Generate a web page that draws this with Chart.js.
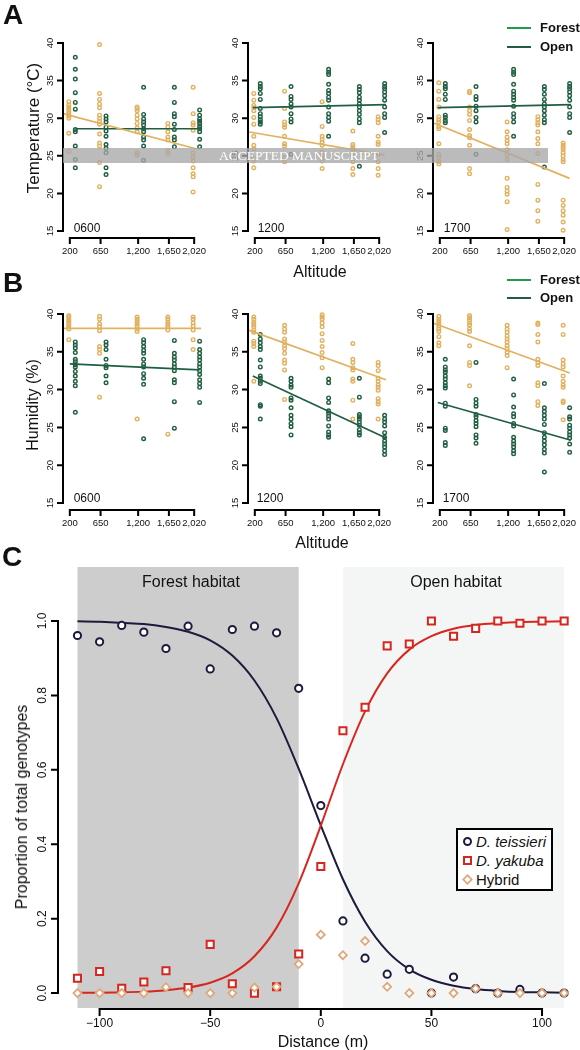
<!DOCTYPE html>
<html>
<head>
<meta charset="utf-8">
<script src="https://cdn.jsdelivr.net/npm/chart.js@4.4.1/dist/chart.umd.min.js"></script>
<style>
  html, body { margin: 0; padding: 0; background: #fff; }
  #page { position: relative; width: 580px; height: 1050px; overflow: hidden; font-family: "Liberation Sans", Arial, sans-serif; color: #111; }
  canvas { position: absolute; left: 0; top: 0; }
  .t { position: absolute; transform: translate(-50%, -50%); white-space: nowrap; line-height: 1; }
  .r { transform: translate(-50%, -50%) rotate(-90deg); }
  .letter { font-size: 28px; font-weight: bold; }
  .hour { font-size: 12px; }
  .ttl { font-size: 16px; }
  .lg { position: absolute; font-size: 13px; font-weight: bold; line-height: 1; }
  .lg span.ln { position: absolute; left: 0; top: -1px; width: 24px; height: 2px; }
  .lg span.tx { position: absolute; left: 33px; top: -7px; white-space: nowrap; }
  #wm { position: absolute; left: 63px; top: 148px; width: 485px; height: 15px; background: rgba(168,168,168,0.78); }
  #wmt { font-family: "Liberation Serif", "DejaVu Serif", serif; font-size: 13.5px; color: #fff; }
  #cleg { position: absolute; left: 456px; top: 828px; width: 93px; height: 59px; border: 2px solid #000; background: #fff; font-size: 15px; }
  #cleg .row { position: absolute; left: 0; height: 18px; line-height: 18px; white-space: nowrap; }
  #cleg .mk { position: absolute; left: 5px; top: 4px; width: 5px; height: 5px; background: #fff; }
  #cleg .lab { position: absolute; left: 18px; top: 0; }
</style>
</head>
<body>
<div id="page">
  <canvas id="a1" width="580" height="1050"></canvas>
  <canvas id="a2" width="580" height="1050"></canvas>
  <canvas id="a3" width="580" height="1050"></canvas>
  <canvas id="b1" width="580" height="1050"></canvas>
  <canvas id="b2" width="580" height="1050"></canvas>
  <canvas id="b3" width="580" height="1050"></canvas>
  <canvas id="c1" width="580" height="1050"></canvas>

  <div id="wm"></div>
  <div class="t" id="wmt" style="left:299px;top:156px;">ACCEPTED MANUSCRIPT</div>

  <div class="t letter" style="left:13px;top:15px;">A</div>
  <div class="t letter" style="left:13px;top:283px;">B</div>
  <div class="t letter" style="left:12px;top:557px;">C</div>

  <div class="t r" style="left:33px;top:128px;font-size:17px;">Temperature (°C)</div>
  <div class="t r ttl" style="left:33px;top:405px;">Humidity (%)</div>
  <div class="t ttl" style="left:320px;top:272px;">Altitude</div>
  <div class="t ttl" style="left:322px;top:543px;">Altitude</div>

  <div class="t hour" style="left:87px;top:228px;">0600</div>
  <div class="t hour" style="left:271px;top:228px;">1200</div>
  <div class="t hour" style="left:457px;top:228px;">1700</div>
  <div class="t hour" style="left:87px;top:498px;">0600</div>
  <div class="t hour" style="left:270px;top:498px;">1200</div>
  <div class="t hour" style="left:456px;top:498px;">1700</div>

  <div class="lg" style="left:507px;top:28px;"><span class="ln" style="background:#229a4b"></span><span class="tx">Forest</span></div>
  <div class="lg" style="left:507px;top:47px;"><span class="ln" style="background:#1f5e40"></span><span class="tx">Open</span></div>
  <div class="lg" style="left:507px;top:280px;"><span class="ln" style="background:#229a4b"></span><span class="tx">Forest</span></div>
  <div class="lg" style="left:507px;top:298px;"><span class="ln" style="background:#1f5e40"></span><span class="tx">Open</span></div>

  <div class="t ttl" style="left:191px;top:582px;">Forest habitat</div>
  <div class="t ttl" style="left:456px;top:582px;">Open habitat</div>
  <div class="t r ttl" style="left:22px;top:807px;">Proportion of total genotypes</div>
  <div class="t ttl" style="left:323px;top:1042px;">Distance (m)</div>

  <div id="cleg">
    <div class="row" style="top:3px;"><span class="mk" style="border:2px solid #1c1b3d;border-radius:50%;"></span><span class="lab"><i>D. teissieri</i></span></div>
    <div class="row" style="top:22px;"><span class="mk" style="border:2px solid #d7261e;"></span><span class="lab"><i>D. yakuba</i></span></div>
    <div class="row" style="top:41px;"><span class="mk" style="border:2px solid #dfa77c;transform:rotate(45deg) scale(0.85);"></span><span class="lab">Hybrid</span></div>
  </div>
</div>

<script>
// ---- panels A & B : altitude groups ----
var altitudes = [200, 650, 1200, 1650, 2020];
var altitudeLabels = ['200', '650', '1,200', '1,650', '2,020'];
var climateTicks = [15, 20, 25, 30, 35, 40];
var climateTickLabels = ['15', '20', '25', '30', '35', '40'];

var temp0600Forest = [
    [32.2, 31.8, 31.5, 31.2, 30.9, 30.6, 30.3, 30.0, 28.0, 25.6],
    [39.8, 33.3, 32.5, 31.9, 31.4, 30.4, 30.0, 29.6, 29.2, 27.9, 26.7, 26.3, 24.1, 20.9],
    [31.5, 31.3, 31.0, 30.4, 29.9, 29.3, 28.7, 28.2, 25.4, 25.1],
    [29.3, 28.8, 28.2, 27.5, 27.1, 25.7, 25.3],
    [34.1, 30.6, 29.4, 29.1, 28.4, 25.4, 24.8, 24.3, 23.4, 22.6, 22.2, 20.2]
];
var temp0600Open = [
    [38.1, 36.5, 35.2, 33.4, 32.1, 31.2, 28.5, 28.2, 26.3, 24.5, 23.4],
    [30.3, 29.9, 29.5, 28.8, 28.3, 27.6, 26.5, 26.0, 25.4, 23.4, 22.5],
    [34.1, 30.5, 29.9, 29.5, 29.1, 28.6, 28.2, 27.5, 27.1, 26.3, 24.4],
    [34.1, 32.1, 30.6, 30.2, 29.2, 28.5, 27.5, 27.1, 26.2],
    [31.1, 30.4, 29.9, 29.6, 29.3, 28.9, 28.6, 28.2, 27.2, 26.2]
];
var temp1200Forest = [
    [33.3, 32.4, 31.7, 31.4, 31.0, 30.1, 29.2, 27.6, 26.4, 25.9, 24.6, 24.3, 23.4],
    [33.6, 31.3, 29.5, 29.1, 28.8, 27.6, 26.6, 26.3, 24.8, 24.2],
    [32.2, 28.9, 27.6, 27.2, 26.8, 26.4, 25.5, 25.1, 24.7, 24.3, 23.3],
    [28.3, 26.5, 26.2, 25.9, 25.5, 25.2, 24.2, 23.3, 22.5],
    [30.2, 29.8, 29.4, 27.6, 26.8, 26.5, 25.2, 24.2, 23.3, 22.4]
];
var temp1200Open = [
    [34.6, 34.2, 33.9, 33.3, 32.5, 31.3, 30.6, 30.2, 29.8, 29.5, 29.2],
    [34.2, 32.9, 32.5, 31.9, 31.5, 30.6, 29.9, 29.5, 25.2],
    [36.5, 36.1, 35.8, 34.5, 33.7, 33.3, 32.8, 32.4, 31.5, 30.6, 30.1, 29.6, 27.6],
    [34.2, 33.8, 33.4, 32.8, 32.4, 31.9, 31.5, 31.0, 30.5, 29.9, 29.4, 23.6],
    [34.6, 34.2, 33.9, 33.5, 33.0, 32.4, 31.5, 30.6, 30.1, 28.1]
];
var temp1700Forest = [
    [34.7, 33.6, 32.5, 31.5, 30.2, 29.8, 29.5, 28.9, 28.6, 26.6, 25.2, 24.8, 24.2, 23.9],
    [33.6, 33.4, 31.5, 31.0, 30.5, 29.7, 28.5, 27.7, 27.4, 26.4, 23.3, 22.6],
    [29.5, 28.2, 27.5, 27.0, 26.6, 25.8, 25.1, 24.5, 22.0, 20.8, 20.3, 19.9, 18.9, 15.2],
    [30.2, 29.8, 29.4, 29.1, 28.2, 27.3, 26.6, 25.3, 21.2, 19.1, 17.7, 16.3],
    [26.7, 26.4, 26.1, 25.8, 25.4, 25.0, 24.5, 24.2, 19.1, 18.4, 17.7, 17.1, 16.2, 15.1]
];
var temp1700Open = [
    [34.6, 34.2, 33.9, 33.2, 32.5, 30.4, 30.1, 29.7, 29.4],
    [34.2, 32.9, 32.5, 31.6, 31.0, 30.1, 29.5, 25.2],
    [36.5, 36.1, 35.8, 34.5, 33.6, 33.2, 32.8, 32.4, 31.6, 30.6, 30.1, 29.5, 27.6],
    [34.2, 33.8, 33.2, 32.5, 31.9, 31.5, 31.0, 30.4, 29.8, 29.4, 23.5],
    [34.6, 34.2, 33.9, 33.5, 33.0, 32.4, 31.5, 30.6, 30.1, 28.1]
];

var hum0600Forest = [
    [39.8, 39.6, 39.3, 39.1, 38.9, 38.6, 38.3, 38.0, 36.6],
    [39.7, 39.3, 38.7, 38.3, 37.8, 35.7, 35.3, 34.8, 29.0],
    [39.6, 39.3, 39.0, 38.7, 38.4, 38.0, 37.7, 26.1],
    [39.6, 39.3, 38.9, 38.6, 38.3, 37.9, 24.1],
    [39.6, 39.3, 38.8, 38.4, 37.9, 36.6, 35.3]
];
var hum0600Open = [
    [36.3, 35.9, 35.5, 34.9, 34.0, 33.7, 33.3, 33.0, 32.4, 31.8, 31.1, 30.5, 27.0],
    [36.3, 35.9, 35.3, 34.0, 33.2, 32.9, 31.8, 30.9],
    [36.6, 36.2, 35.7, 35.2, 34.8, 34.0, 33.4, 33.0, 32.1, 31.5, 30.7, 23.5],
    [36.5, 34.8, 34.3, 33.9, 33.4, 33.0, 32.5, 31.3, 30.9, 28.4, 24.9],
    [36.4, 35.3, 34.8, 34.3, 33.9, 33.4, 33.0, 32.5, 32.0, 31.3, 30.8, 30.3, 28.3]
];
var hum1200Forest = [
    [39.6, 39.3, 38.9, 38.6, 38.3, 37.9, 37.6, 36.4, 36.1, 35.7, 31.1],
    [38.5, 38.0, 37.6, 36.7, 36.3, 35.8, 35.4, 34.8, 33.9, 33.5, 32.6, 28.7],
    [39.9, 39.6, 39.3, 38.8, 38.3, 37.4, 36.5, 35.7, 34.9, 34.2, 32.9],
    [36.1, 34.0, 33.6, 32.9, 32.6, 31.4, 31.1, 28.6, 26.1],
    [33.6, 33.2, 32.5, 31.5, 31.1, 30.6, 30.3, 29.9, 28.8, 28.4, 28.1, 26.1]
];
var hum1200Open = [
    [37.3, 36.7, 36.2, 35.7, 35.3, 33.9, 33.0, 31.8, 31.5, 31.1, 30.8, 28.0, 27.8, 26.1],
    [31.5, 31.1, 30.6, 30.3, 28.9, 28.6, 27.6, 26.6, 26.1, 25.5, 25.1, 24.0],
    [31.4, 30.9, 28.9, 28.3, 27.2, 26.9, 26.5, 26.1, 25.2, 24.4, 24.0, 23.7],
    [31.5, 29.0, 26.7, 26.4, 26.1, 25.7, 25.3, 24.7, 24.3, 24.0],
    [26.6, 26.1, 25.7, 25.2, 24.3, 23.7, 23.2, 22.8, 22.4, 21.9, 21.4]
];
var hum1700Forest = [
    [39.7, 39.3, 39.0, 38.7, 38.4, 38.0, 37.7, 37.0, 36.2, 35.8],
    [39.8, 39.5, 39.2, 38.8, 38.5, 38.0, 37.7, 35.8, 33.6, 33.2, 30.5],
    [38.5, 38.0, 37.6, 37.1, 36.7, 36.3, 35.8, 35.4, 34.9, 34.5, 32.9],
    [38.8, 38.6, 37.3, 36.3, 34.0, 33.6, 33.2, 30.9, 30.5, 28.4, 27.9],
    [38.5, 37.3, 33.9, 33.4, 33.0, 31.8, 31.1, 30.6, 30.3, 28.5, 28.3, 26.0]
];
var hum1700Open = [
    [34.0, 33.0, 32.6, 32.3, 31.8, 31.4, 30.9, 30.5, 30.2, 28.2, 27.8, 24.9, 24.6, 23.0, 22.6],
    [33.6, 28.7, 28.2, 27.8, 26.7, 26.4, 25.9, 25.5, 25.1, 24.0, 23.6, 22.9],
    [31.4, 29.3, 27.7, 26.8, 26.4, 25.5, 25.2, 23.7, 23.2, 22.8, 22.4, 21.9, 21.5],
    [30.8, 27.6, 27.1, 26.6, 26.1, 25.4, 24.3, 23.7, 23.2, 22.7, 22.1, 21.6, 19.1],
    [27.6, 26.4, 26.1, 25.3, 24.9, 24.4, 24.0, 23.6, 22.8, 21.7]
];

// regression lines, [altitude, value] at each end
var tempFit0600Forest = [[100, 30.6], [2060, 25.9]];
var tempFit0600Open = [[280, 28.6], [2120, 28.6]];
var tempFit1200Forest = [[100, 28.2], [2100, 25.1]];
var tempFit1200Open = [[170, 31.4], [2120, 31.8]];
var tempFit1700Forest = [[100, 29.4], [2100, 22.0]];
var tempFit1700Open = [[170, 31.4], [2120, 31.8]];
var humFit0600Forest = [[100, 38.1], [2120, 38.1]];
var humFit0600Open = [[200, 33.4], [2100, 32.6]];
var humFit1200Forest = [[100, 37.9], [2120, 31.3]];
var humFit1200Open = [[170, 31.8], [2120, 23.6]];
var humFit1700Forest = [[100, 38.8], [2100, 32.2]];
var humFit1700Open = [[170, 28.3], [2120, 23.3]];

// ---- panel C : genotype cline ----
var distances = [-110, -100, -90, -80, -70, -60, -50, -40, -30, -20, -10, 0, 10, 20, 30, 40, 50, 60, 70, 80, 90, 100, 110];
var teissieri = [0.961, 0.944, 0.988, 0.970, 0.926, 0.986, 0.871, 0.977, 0.986, 0.968, 0.819, 0.504, 0.194, 0.094, 0.051, 0.064, 0.0, 0.043, 0.012, 0.0, 0.010, 0.0, 0.0];
var yakuba = [0.040, 0.058, 0.013, 0.030, 0.060, 0.015, 0.131, 0.025, 0.0, 0.017, 0.105, 0.340, 0.705, 0.768, 0.933, 0.938, 1.0, 0.959, 0.980, 1.0, 0.994, 1.0, 1.0];
var hybrid = [0.0, 0.0, 0.0, 0.0, 0.016, 0.0, 0.0, 0.0, 0.015, 0.017, 0.078, 0.157, 0.102, 0.140, 0.017, 0.0, 0.0, 0.0, 0.012, 0.0, 0.0, 0.0, 0.0];
var teissieriFit = [0.999, 0.998, 0.995, 0.992, 0.984, 0.971, 0.948, 0.907, 0.840, 0.739, 0.603, 0.451, 0.306, 0.192, 0.113, 0.064, 0.036, 0.020, 0.011, 0.006, 0.003, 0.002, 0.001];
var yakubaFit = [0.001, 0.001, 0.002, 0.004, 0.008, 0.015, 0.028, 0.053, 0.099, 0.176, 0.295, 0.450, 0.615, 0.757, 0.859, 0.923, 0.959, 0.979, 0.989, 0.994, 0.997, 0.998, 0.999];
var forestZone = [-110, -10];
var openZone = [10, 110];
var distanceTicks = [-100, -50, 0, 50, 100];
var distanceTickLabels = ['\u2212100', '\u221250', '0', '50', '100'];
var propTicks = [0, 0.2, 0.4, 0.6, 0.8, 1.0];
var propTickLabels = ['0.0', '0.2', '0.4', '0.6', '0.8', '1.0'];

var tan = '#e1b160';
var green = '#1f5e40';
var navy = '#1c1b3d';
var red = '#d7261e';
var peach = '#dfa77c';

// R style detached axes, drawn from the chart's own scales
var rAxes = {
    id: 'rAxes',
    afterDatasetsDraw: function (chart, args, o) {
        if (!o || !o.xTicks) return;
        var ctx = chart.ctx, a = chart.chartArea;
        var xs = chart.scales.x, ys = chart.scales.y;
        ctx.save();
        ctx.strokeStyle = '#000';
        ctx.fillStyle = '#111';
        ctx.lineWidth = o.lw;
        ctx.lineCap = 'square';
        ctx.font = o.font;

        var ay = a.bottom + o.xGap;
        ctx.beginPath();
        ctx.moveTo(xs.getPixelForValue(o.xTicks[0]), ay);
        ctx.lineTo(xs.getPixelForValue(o.xTicks[o.xTicks.length - 1]), ay);
        o.xTicks.forEach(function (v) {
            var p = xs.getPixelForValue(v);
            ctx.moveTo(p, ay);
            ctx.lineTo(p, ay + o.tick);
        });
        var ax = a.left - o.yGap;
        ctx.moveTo(ax, ys.getPixelForValue(o.yTicks[0]));
        ctx.lineTo(ax, ys.getPixelForValue(o.yTicks[o.yTicks.length - 1]));
        o.yTicks.forEach(function (v) {
            var p = ys.getPixelForValue(v);
            ctx.moveTo(ax, p);
            ctx.lineTo(ax - o.tick, p);
        });
        ctx.stroke();

        ctx.textAlign = 'center';
        ctx.textBaseline = 'middle';
        o.xTicks.forEach(function (v, i) {
            ctx.fillText(o.xLabels[i], xs.getPixelForValue(v), ay + o.xLab);
        });
        o.yTicks.forEach(function (v, i) {
            ctx.save();
            ctx.translate(ax - o.yLab, ys.getPixelForValue(v));
            ctx.rotate(-Math.PI / 2);
            ctx.fillText(o.yLabels[i], 0, 0);
            ctx.restore();
        });
        ctx.restore();
    }
};

// shaded habitat bands behind panel C
var zones = {
    id: 'zones',
    beforeDatasetsDraw: function (chart, args, o) {
        if (!o || !o.list) return;
        var ctx = chart.ctx, a = chart.chartArea, xs = chart.scales.x;
        ctx.save();
        o.list.forEach(function (z) {
            var l = xs.getPixelForValue(z.range[0]);
            var r = xs.getPixelForValue(z.range[1]);
            ctx.fillStyle = z.color;
            ctx.fillRect(l, a.top, r - l, a.bottom - a.top);
        });
        ctx.restore();
    }
};

Chart.register(rAxes, zones);

function groupPoints(groups, dodge) {
    var pts = [];
    for (var i = 0; i < groups.length; i++)
        for (var j = 0; j < groups[i].length; j++)
            pts.push({ x: altitudes[i] + dodge, y: groups[i][j] });
    return pts;
}

function fitLine(fit) {
    return fit.map(function (p) { return { x: p[0], y: p[1] }; });
}

function subplot(id, left, top, bottom, forest, open, forestFit, openFit) {
    var width = 138;
    return new Chart(document.getElementById(id), {
        type: 'scatter',
        data: {
            datasets: [
                { data: fitLine(forestFit), showLine: true, borderColor: tan, borderWidth: 1.7, pointRadius: 0, order: 0, clip: false },
                { data: fitLine(openFit), showLine: true, borderColor: green, borderWidth: 1.7, pointRadius: 0, order: 0, clip: false },
                { data: groupPoints(forest, -15), borderColor: tan, backgroundColor: 'rgba(0,0,0,0)', borderWidth: 1.4, pointRadius: 1.8, order: 2, clip: false },
                { data: groupPoints(open, 80), borderColor: green, backgroundColor: 'rgba(0,0,0,0)', borderWidth: 1.4, pointRadius: 1.8, order: 1, clip: false }
            ]
        },
        options: {
            responsive: false,
            animation: false,
            layout: { padding: { left: left, top: top, right: 580 - left - width, bottom: 1050 - bottom } },
            scales: {
                x: { type: 'linear', min: 100, max: 2120, display: false },
                y: { min: 15, max: 40, display: false }
            },
            plugins: {
                legend: { display: false },
                tooltip: { enabled: false },
                rAxes: {
                    xTicks: altitudes, xLabels: altitudeLabels,
                    yTicks: climateTicks, yLabels: climateTickLabels,
                    xGap: 7, yGap: 0, tick: 5, xLab: 13, yLab: 13,
                    font: '9.5px "Liberation Sans", Arial, sans-serif', lw: 2
                }
            }
        }
    });
}

var cols = [63, 248, 433];
subplot('a1', cols[0], 43, 231, temp0600Forest, temp0600Open, tempFit0600Forest, tempFit0600Open);
subplot('a2', cols[1], 43, 231, temp1200Forest, temp1200Open, tempFit1200Forest, tempFit1200Open);
subplot('a3', cols[2], 43, 231, temp1700Forest, temp1700Open, tempFit1700Forest, tempFit1700Open);
subplot('b1', cols[0], 314, 503, hum0600Forest, hum0600Open, humFit0600Forest, humFit0600Open);
subplot('b2', cols[1], 314, 503, hum1200Forest, hum1200Open, humFit1200Forest, humFit1200Open);
subplot('b3', cols[2], 314, 503, hum1700Forest, hum1700Open, humFit1700Forest, humFit1700Open);

function pairs(ys) {
    return distances.map(function (d, i) { return { x: d, y: ys[i] }; });
}

new Chart(document.getElementById('c1'), {
    type: 'scatter',
    data: {
        datasets: [
            { data: pairs(hybrid), pointStyle: 'rectRot', pointRadius: 4, borderWidth: 1.8, borderColor: peach, backgroundColor: '#fff', order: 0, clip: false },
            { data: pairs(yakuba), pointStyle: 'rect', pointRadius: 5, borderWidth: 2, borderColor: red, backgroundColor: '#fff', order: 1, clip: false },
            { data: pairs(teissieri), pointStyle: 'circle', pointRadius: 3.6, borderWidth: 2, borderColor: navy, backgroundColor: '#fff', order: 2, clip: false },
            { data: pairs(yakubaFit), showLine: true, pointRadius: 0, borderColor: red, borderWidth: 2, cubicInterpolationMode: 'monotone', order: 3 },
            { data: pairs(teissieriFit), showLine: true, pointRadius: 0, borderColor: navy, borderWidth: 2, cubicInterpolationMode: 'monotone', order: 3 }
        ]
    },
    options: {
        responsive: false,
        animation: false,
        layout: { padding: { left: 58, top: 567, right: 3, bottom: 42 } },
        scales: {
            x: { type: 'linear', min: -118.8, max: 114, display: false },
            y: { min: -0.04, max: 1.145, display: false }
        },
        plugins: {
            legend: { display: false },
            tooltip: { enabled: false },
            zones: { list: [{ range: forestZone, color: '#cdcdcd' }, { range: openZone, color: '#f4f6f6' }] },
            rAxes: {
                xTicks: distanceTicks, xLabels: distanceTickLabels,
                yTicks: propTicks, yLabels: propTickLabels,
                xGap: 1, yGap: 0, tick: 6, xLab: 15, yLab: 15,
                font: '12px "Liberation Sans", Arial, sans-serif', lw: 2
            }
        }
    }
});
</script>
</body>
</html>
